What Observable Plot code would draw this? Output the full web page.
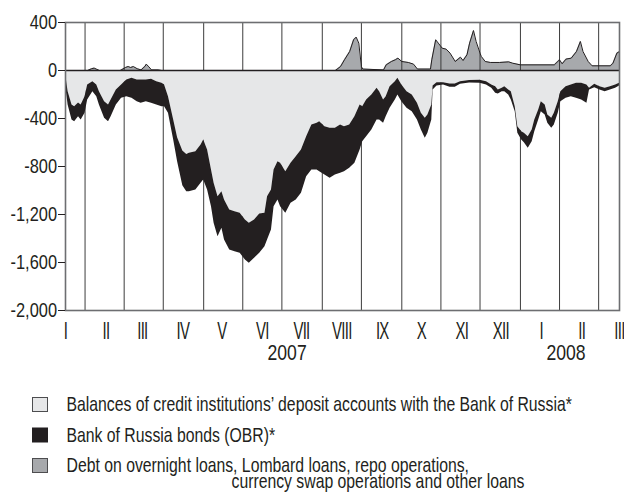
<!DOCTYPE html>
<html>
<head>
<meta charset="utf-8">
<script src="https://cdn.jsdelivr.net/npm/d3@7"></script>
<script src="https://cdn.jsdelivr.net/npm/@observablehq/plot@0.6"></script>
<style>
  body { margin: 0; background: #fff; }
  #wrap { position: relative; width: 624px; height: 497px; }
  #chart { position: absolute; left: 0; top: 0; }
  #legend { position: absolute; left: 0; top: 0; }
</style>
</head>
<body>
<div id="wrap">
  <div id="chart"></div>
  <svg id="legend" width="624" height="497"></svg>
</div>
<script>
// ---- data (billions of roubles) ----
const dates = [
  "2007-01-01","2007-01-03","2007-01-06","2007-01-08","2007-01-11","2007-01-13","2007-01-16","2007-01-18","2007-01-22","2007-01-25","2007-01-27","2007-01-31",
  "2007-02-03","2007-02-05","2007-02-09","2007-02-13","2007-02-17","2007-02-21","2007-02-25","2007-02-28",
  "2007-03-04","2007-03-08","2007-03-12","2007-03-16","2007-03-18","2007-03-21","2007-03-25","2007-03-28",
  "2007-04-01","2007-04-04","2007-04-06","2007-04-11","2007-04-15","2007-04-17","2007-04-20","2007-04-23","2007-04-25","2007-04-28",
  "2007-05-01","2007-05-03","2007-05-07","2007-05-11","2007-05-15","2007-05-19","2007-05-22","2007-05-26","2007-05-30",
  "2007-06-03","2007-06-05","2007-06-08","2007-06-10","2007-06-13","2007-06-15","2007-06-19","2007-06-23","2007-06-27",
  "2007-07-01","2007-07-05","2007-07-09","2007-07-13","2007-07-15","2007-07-19","2007-07-23","2007-07-27","2007-07-31",
  "2007-08-03","2007-08-07","2007-08-11","2007-08-15","2007-08-17","2007-08-20","2007-08-24","2007-08-28","2007-08-30",
  "2007-09-02","2007-09-04","2007-09-07","2007-09-11","2007-09-13","2007-09-16","2007-09-20","2007-09-24","2007-09-28",
  "2007-10-01","2007-10-04","2007-10-06","2007-10-09","2007-10-10","2007-10-13","2007-10-18","2007-10-23","2007-10-27","2007-10-31",
  "2007-11-07","2007-11-15","2007-11-20","2007-11-24","2007-11-27","2007-11-29",
  "2007-12-02","2007-12-04","2007-12-07","2007-12-09","2007-12-12","2007-12-14","2007-12-17","2007-12-19","2007-12-22","2007-12-25","2007-12-27","2007-12-30",
  "2008-01-01","2008-01-04","2008-01-06","2008-01-09","2008-01-11","2008-01-14","2008-01-16","2008-01-20","2008-01-24","2008-01-28",
  "2008-02-01","2008-02-05","2008-02-07","2008-02-11","2008-02-15","2008-02-19","2008-02-23","2008-02-27","2008-03-01"
];
// Balances of credit institutions' deposit accounts (shown negative)
const deposits = [
  -23,-177,-288,-302,-271,-288,-218,-121,-93,-121,-177,-260,
  -288,-246,-163,-121,-79,-65,-79,-79,
  -79,-73,-93,-107,-121,-218,-413,-560,
  -670,-700,-690,-677,-621,-579,-663,-829,-940,-1052,
  -1010,-1079,-1163,-1177,-1190,-1246,-1273,-1246,-1196,
  -1190,-1052,-996,-829,-760,-773,-843,-773,-718,
  -663,-552,-454,-440,-427,-468,-482,-482,-454,
  -468,-454,-385,-288,-302,-246,-204,-148,-177,
  -246,-218,-135,-93,-65,-121,-177,-204,-273,
  -357,-398,-371,-288,-129,-102,-102,-113,-113,-93,
  -83,-82,-93,-121,-135,-163,
  -148,-135,-163,-177,-302,-468,-510,-523,-552,-496,-413,-329,
  -260,-288,-371,-398,-357,-260,-177,-135,-121,-107,
  -107,-121,-148,-115,-135,-148,-135,-121,-107
];
// Bank of Russia bonds (OBR), stacked below the deposits (shown negative)
const bonds = [
  -98,-111,-125,-125,-114,-125,-139,-125,-84,-97,-111,-138,
  -139,-139,-125,-111,-139,-167,-181,-194,
  -181,-200,-195,-195,-181,-139,-167,-200,
  -290,-310,-320,-319,-319,-333,-333,-306,-333,-333,
  -305,-334,-333,-333,-333,-333,-334,-319,-327,
  -278,-361,-333,-306,-319,-362,-347,-334,-361,
  -360,-333,-375,-389,-416,-403,-416,-389,-403,
  -375,-361,-388,-375,-291,-306,-292,-265,-236,
  -194,-167,-180,-153,-139,-139,-138,-139,-140,
  -139,-167,-152,-125,-33,-27,-19,-27,-27,-22,
  -21,-25,-28,-27,-55,-33,
  -29,-42,-41,-69,-41,-55,-70,-80,-96,-97,-97,-84,
  -83,-83,-69,-84,-97,-97,-83,-97,-97,-125,
  -139,-152,-15,-28,-28,-29,-28,-27,-22
];
// Debt on overnight loans, Lombard loans, repo, swaps and other loans
const loanDates = [
  "2007-01-01","2007-01-18","2007-01-21","2007-01-23","2007-01-25","2007-01-27","2007-02-12","2007-02-16","2007-02-18","2007-02-20","2007-02-22","2007-02-25","2007-02-28",
  "2007-03-03","2007-03-04","2007-03-06","2007-03-08","2007-03-13","2007-03-16",
  "2007-07-27","2007-07-31","2007-08-03","2007-08-07","2007-08-10","2007-08-12","2007-08-14","2007-08-16","2007-08-17",
  "2007-09-02","2007-09-04","2007-09-08","2007-09-11","2007-09-13","2007-09-16","2007-09-21","2007-09-25","2007-09-28",
  "2007-10-08","2007-10-09","2007-10-12","2007-10-14","2007-10-17","2007-10-20","2007-10-23","2007-10-27","2007-10-31",
  "2007-11-02","2007-11-05","2007-11-07","2007-11-10","2007-11-12","2007-11-15","2007-11-16","2007-11-19","2007-11-23","2007-11-30",
  "2007-12-07","2007-12-10","2007-12-16",
  "2008-01-11","2008-01-15","2008-01-17","2008-01-20","2008-01-24","2008-01-28","2008-01-31",
  "2008-02-02","2008-02-06","2008-02-09","2008-02-23","2008-02-25","2008-02-28","2008-03-01"
];
const loans = [
  0,0,15,20,10,0,0,25,33,25,33,15,5,
  35,53,30,5,5,0,
  0,33,89,158,256,278,228,33,12,
  5,47,75,89,103,75,67,53,12,
  12,89,256,228,186,178,145,75,111,
  83,131,228,333,242,145,117,75,67,67,
  72,61,47,
  47,89,56,95,103,158,242,
  158,75,39,39,61,145,158
];
const monthTicks = ["2007-01-01","2007-02-01","2007-03-01","2007-04-01","2007-05-01","2007-06-01","2007-07-01","2007-08-01","2007-09-01","2007-10-01","2007-11-01","2007-12-01","2008-01-01","2008-02-01","2008-03-01"];
const monthLabels = ["I","II","III","IV","V","VI","VII","VIII","IX","X","XI","XII","I","II","III"];
const gridDates = ["2007-01-16","2007-02-15","2007-03-17","2007-04-17","2007-05-17","2007-06-16","2007-07-17","2007-08-16","2007-09-16","2007-10-16","2007-11-15","2007-12-16","2008-01-15","2008-02-14"];
const yTicks = [400, 0, -400, -800, -1200, -1600, -2000];
const yTickLabels = ["400", "0", "-400", "-800", "-1,200", "-1,600", "-2,000"];
const years = [{date: "2007-06-20", label: "2007"}, {date: "2008-01-20", label: "2008"}];
const legendItems = [
  {lines: ["Balances of credit institutions’ deposit accounts with the Bank of Russia*"], color: "#e6e7e8"},
  {lines: ["Bank of Russia bonds (OBR)*"], color: "#231f20"},
  {lines: ["Debt on overnight loans, Lombard loans, repo operations,", "currency swap operations and other loans"], color: "#a7a9ac"}
];

// ---- build ----
const P = s => new Date(s + "T00:00:00Z");
const rows = dates.map((d, i) => ({date: P(d), dep: deposits[i], low: deposits[i] + bonds[i]}));
const loanRows = loanDates.map((d, i) => ({date: P(d), v: loans[i]}));
const tickMap = new Map(monthTicks.map((d, i) => [+P(d), monthLabels[i]]));
const yMap = new Map(yTicks.map((v, i) => [v, yTickLabels[i]]));
const FONT = '"Liberation Sans", Arial, sans-serif';
const INK = "#231f20";

const chart = Plot.plot({
  width: 624, height: 375,
  marginLeft: 65, marginRight: 5, marginTop: 22, marginBottom: 65,
  style: {fontFamily: FONT, color: INK, background: "white", overflow: "visible"},
  x: {type: "utc", domain: [P("2007-01-01"), P("2008-03-01")]},
  y: {domain: [-2000, 400]},
  marks: [
    Plot.areaY(loanRows, {x: "date", y: "v", fill: "#a7a9ac"}),
    Plot.ruleX(gridDates.map(P), {stroke: "#3c3c3c", strokeWidth: 1}),
    Plot.areaY(rows, {x: "date", y1: 0, y2: "dep", fill: "#e6e7e8"}),
    Plot.areaY(rows, {x: "date", y1: "dep", y2: "low", fill: INK}),
    Plot.lineY(loanRows, {x: "date", y: "v", stroke: INK, strokeWidth: 1}),
    Plot.ruleY([0], {stroke: INK, strokeWidth: 1.6}),
    Plot.frame({stroke: "#6d6e71", strokeWidth: 1.6}),
    Plot.axisY(yTicks, {tickSize: 7, tickPadding: 1.5, fontSize: 20.5, tickFormat: v => yMap.get(v), stroke: INK, fill: INK, label: null}),
    Plot.axisX(monthTicks.map(P), {tickSize: 0, tickPadding: 12, fontSize: 23, tickFormat: d => tickMap.get(+d), fill: INK, label: null}),
    Plot.text(years, {x: d => P(d.date), text: "label", frameAnchor: "bottom", lineAnchor: "top", dy: 33.5, fontSize: 22, fill: INK})
  ]
});
// condensed look: squeeze glyphs horizontally about each text's anchor
function squeeze(sel, k, spacing) {
  d3.select(chart).selectAll(sel).each(function() {
    const t = this.getAttribute("transform") || "";
    this.setAttribute("transform", t + ` scale(${k},1)`);
    if (spacing != null) this.style.letterSpacing = spacing;
  });
}
squeeze('g[aria-label="y-axis tick label"] text', 0.80);
squeeze('g[aria-label="x-axis tick label"] text', 0.65, "-1.1px");
squeeze('g[aria-label="text"] text', 0.80);
document.getElementById("chart").appendChild(chart);

// ---- legend (below the chart) ----
const lg = d3.select("#legend");
const swatchY = [397.5, 428, 458.5];
const baselines = [[410.7], [441.7], [471.7, 488]];
const lineX = [66.5, 231.5];
legendItems.forEach((it, i) => {
  lg.append("rect").attr("x", 32.5).attr("y", swatchY[i]).attr("width", 15).attr("height", 14)
    .attr("fill", it.color).attr("stroke", i === 1 ? INK : "#4d4d4f").attr("stroke-width", 1);
  it.lines.forEach((s, j) => {
    lg.append("text")
      .attr("transform", `translate(${lineX[j]},${baselines[i][j]}) scale(0.77,1)`)
      .attr("font-family", FONT).attr("font-size", 20.5).attr("fill", INK)
      .text(s);
  });
});
</script>
</body>
</html>
